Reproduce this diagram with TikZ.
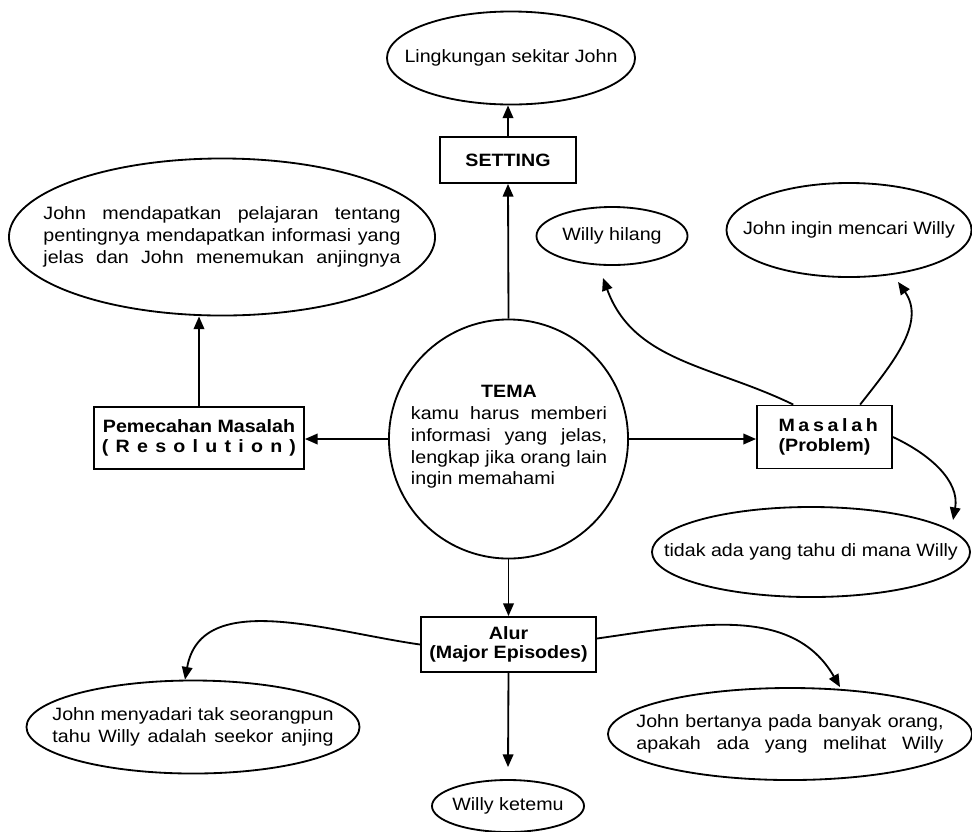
\documentclass[tikz,border=0pt]{standalone}
\usepackage{fontspec}
\setmainfont{Liberation Sans}[FakeStretch=1.1]
\usetikzlibrary{shapes.geometric,arrows.meta}
\newcommand{\rata}[2]{\makebox[#1][s]{#2}}

\begin{document}
\begin{tikzpicture}[x=0.025cm,y=-0.025cm,line width=1.3pt,
            font=\fontsize{12.7}{15.5}\selectfont,
            kotak/.style={draw,rectangle,inner sep=0pt,align=center,font=\fontsize{12.7}{14}\selectfont\bfseries},
            awan/.style={draw,ellipse,inner sep=0pt},
            panah/.style={-{Triangle[length=9pt,width=7.5pt]}}]
            \useasboundingbox (0,0) rectangle (972,831);

            \node[draw,circle,inner sep=0pt,minimum size=5.975cm] (tema) at (508.5,439) {};
            \node[align=left] (tema-teks) at (509,437)
                  {\makebox[4.9cm]{\textbf{TEMA}}\\
                   \rata{4.9cm}{kamu harus memberi}\\
                   \rata{4.9cm}{informasi yang jelas,}\\
                   \rata{4.9cm}{lengkap jika orang lain}\\
                   ingin memahami};

            \node[kotak,minimum width=3.4cm,minimum height=1.15cm] (setting) at (508,160) {SETTING};
            \node[awan,minimum width=6.2cm,minimum height=2.325cm,
                  label=center:{Lingkungan sekitar John}] (lingkungan) at (511,58) {};

            \node[kotak,minimum width=5.25cm,minimum height=1.55cm] (pemecahan) at (199,438)
                  {Pemecahan Masalah\\ \rata{4.85cm}{( R e s o l u t i o n )}};
            \node[awan,minimum width=10.65cm,minimum height=3.925cm,
                  label={[align=left]center:{\rata{8.925cm}{John mendapatkan pelajaran tentang}\\
                                             \rata{8.925cm}{pentingnya mendapatkan informasi yang}\\
                                             \rata{8.925cm}{jelas dan John menemukan anjingnya}}}] (solusi) at (222,237) {};

            \node[kotak,minimum width=3.375cm,minimum height=1.575cm] (masalah) at (824.5,437)
                  {\rata{2.3cm}{M a s a l a h}\\ (Problem)};
            \node[awan,minimum width=3.775cm,minimum height=1.45cm,
                  label=center:{Willy hilang}] (hilang) at (612,236) {};
            \node[awan,minimum width=6.125cm,minimum height=2.35cm,
                  label=center:{John ingin mencari Willy}] (mencari) at (849,230) {};
            \node[awan,minimum width=7.95cm,minimum height=2.25cm,
                  label=center:{tidak ada yang tahu di mana Willy}] (tidaktahu) at (811,552) {};

            \node[kotak,minimum width=4.375cm,minimum height=1.375cm] (alur) at (508.5,644.5)
                  {Alur\\ (Major Episodes)};
            \node[awan,minimum width=3.8cm,minimum height=1.3cm,
                  label=center:{Willy ketemu}] (ketemu) at (508,806) {};
            \node[awan,minimum width=8.325cm,minimum height=2.325cm,
                  label={[align=left]center:{\rata{7.025cm}{John menyadari tak seorangpun}\\
                                             \rata{7.025cm}{tahu Willy adalah seekor anjing}}}] (sadar) at (193,727) {};
            \node[awan,minimum width=9.1cm,minimum height=2.3cm,
                  label={[align=left]center:{\rata{7.675cm}{John bertanya pada banyak orang,}\\
                                             \rata{7.675cm}{apakah ada yang melihat Willy}}}] (tanya) at (790,734) {};

            \draw[panah] (tema.north) -- (setting.south);
            \draw[panah] (setting.north) -- (setting.north |- lingkungan.south);
            \draw[panah] (tema.west) -- (tema.west -| pemecahan.east);
            \draw[panah] (pemecahan.north) -- (pemecahan.north |- solusi.south);
            \draw[panah] (tema.east) -- (tema.east -| masalah.west);
            \draw[panah] (tema.south) -- (alur.north);
            \draw[panah] (alur.south) -- ([yshift=0.3cm]ketemu.north);

            \draw[panah] ([xshift=-0.78cm]masalah.north) to[out=154,in=-70] ([xshift=-0.225cm,yshift=-0.3cm]hilang.south);
            \draw[panah] ([xshift=0.89cm]masalah.north) to[out=52,in=-55] ([xshift=1.225cm,yshift=-0.1cm]mencari.south);
            \draw[panah] (masalah.east) to[out=-25,in=80] ([xshift=3.55cm,yshift=-0.35cm]tidaktahu.north);
            \draw[panah] (alur.west) to[out=172,in=80] ([xshift=-0.2cm]sadar.north);
            \draw[panah] ([yshift=0.15cm]alur.east) to[out=8,in=120] ([xshift=1.25cm]tanya.north);
\end{tikzpicture}
\end{document}
